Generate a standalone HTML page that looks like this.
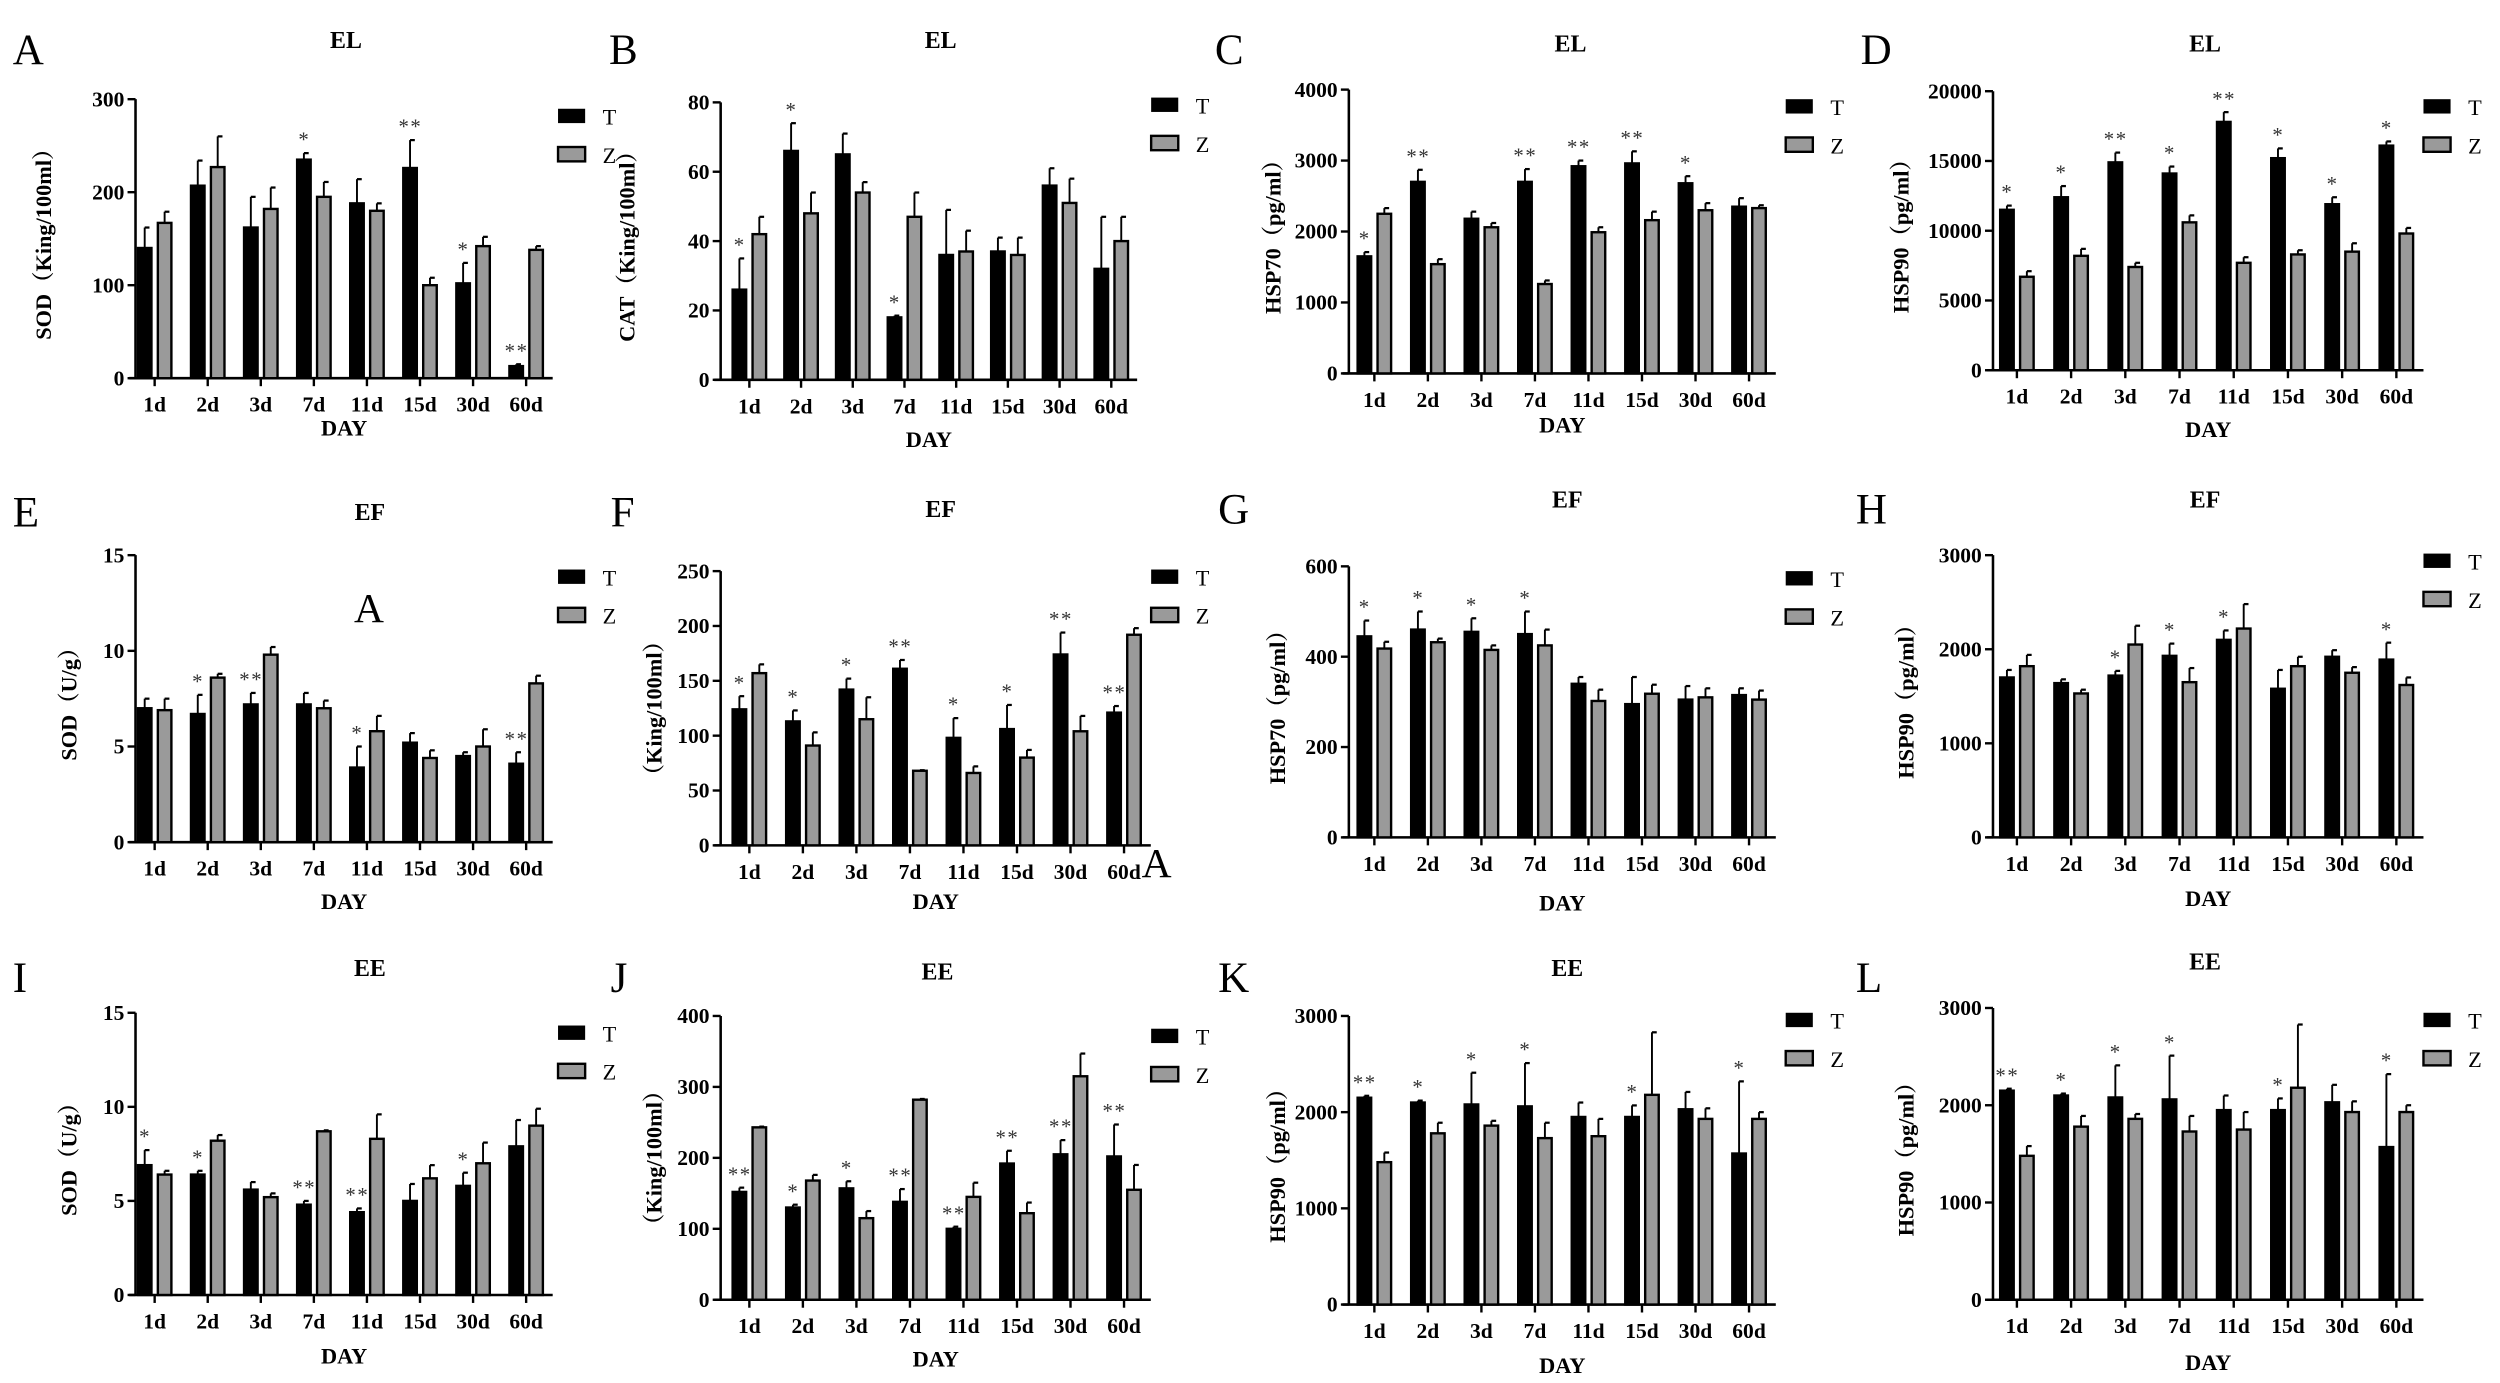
<!DOCTYPE html>
<html><head><meta charset="utf-8">
<style>
html,body{margin:0;padding:0;background:#fff;}
svg{display:block;}
text{font-family:"Liberation Serif","Noto Serif CJK SC",serif;}
</style></head>
<body>
<svg id="s" width="2500" height="1383" viewBox="0 0 1568 867" xmlns="http://www.w3.org/2000/svg"></svg>
<script>
const P=[
{L:'A',lx:8,ly:40,t:'EL',tx:217,ty:30,ax:85,y0:237,yt:62,max:300,step:100,x1:97,x2:330,yl:'SOD（King/100ml）',ylx:32,dy:273,gx:350,gy:73,
T:[140,207,162,235,188,226,102,13],Te:[22,27,33,7,26,30,22,2],Z:[167,227,182,195,180,100,142,138],Ze:[12,33,23,16,8,8,10,4],s:['','','','*','','**','*','**']},
{L:'B',lx:382,ly:40,t:'EL',tx:590,ty:30,ax:452,y0:238,yt:64,max:80,step:20,x1:470,x2:697,yl:'CAT（King/100ml）',ylx:398,dy:280,gx:722,gy:66,
T:[26,66,65,18,36,37,56,32],Te:[9,8,6,0.5,13,4,5,15],Z:[42,48,54,47,37,36,51,40],Ze:[5,6,3,7,6,5,7,7],s:['*','*','','*','','','','']},
{L:'C',lx:762,ly:40,t:'EL',tx:985,ty:32,ax:846,y0:234,yt:56,max:4000,step:1000,x1:862,x2:1097,yl:'HSP70（pg/ml）',ylx:803,dy:271,gx:1120,gy:67,
T:[1650,2700,2180,2700,2920,2960,2680,2350],Te:[60,170,100,180,80,170,100,120],Z:[2250,1540,2060,1260,1990,2160,2300,2330],Ze:[80,70,60,50,70,120,100,40],s:['*','**','','**','**','**','*','']},
{L:'D',lx:1167,ly:40,t:'EL',tx:1383,ty:32,ax:1250,y0:232,yt:57,max:20000,step:5000,x1:1265,x2:1503,yl:'HSP90（pg/ml）',ylx:1197,dy:274,gx:1520,gy:67,
T:[11500,12400,14900,14100,17800,15200,11900,16100],Te:[300,800,700,500,700,700,500,300],Z:[6700,8200,7400,10600,7700,8300,8500,9800],Ze:[400,500,300,500,400,300,600,400],s:['*','*','**','*','**','*','*','*']},
{L:'E',lx:8,ly:330,t:'EF',tx:232,ty:326,ax:85,y0:528,yt:348,max:15,step:5,x1:97,x2:330,yl:'SOD（U/g）',ylx:48,dy:570,gx:350,gy:362,
T:[7,6.7,7.2,7.2,3.9,5.2,4.5,4.1],Te:[0.5,1,0.6,0.6,1.1,0.5,0.2,0.6],Z:[6.9,8.6,9.8,7,5.8,4.4,5,8.3],Ze:[0.6,0.2,0.4,0.4,0.8,0.4,0.9,0.4],s:['','*','**','','*','','','**']},
{L:'F',lx:383,ly:330,t:'EF',tx:590,ty:324,ax:452,y0:530,yt:358,max:250,step:50,x1:470,x2:705,yl:'（King/100ml）',ylx:415,dy:570,gx:722,gy:362,
T:[124,113,142,161,98,106,174,121],Te:[12,10,10,8,18,22,20,6],Z:[157,91,115,68,66,80,104,192],Ze:[8,12,20,0.5,6,7,14,6],s:['*','*','*','**','*','*','**','**']},
{L:'G',lx:764,ly:328,t:'EF',tx:983,ty:318,ax:846,y0:525,yt:355,max:600,step:200,x1:862,x2:1097,yl:'HSP70（pg/ml）',ylx:806,dy:571,gx:1120,gy:363,
T:[445,460,455,450,340,295,305,315],Te:[35,40,30,50,15,60,30,15],Z:[418,432,415,425,302,318,310,305],Ze:[15,8,10,35,25,20,20,20],s:['*','*','*','*','','','','']},
{L:'H',lx:1164,ly:328,t:'EF',tx:1383,ty:318,ax:1250,y0:525,yt:348,max:3000,step:1000,x1:1265,x2:1503,yl:'HSP90（pg/ml）',ylx:1200,dy:568,gx:1520,gy:352,
T:[1700,1640,1720,1930,2100,1580,1920,1890],Te:[80,40,50,130,100,200,70,180],Z:[1820,1530,2050,1650,2220,1820,1750,1620],Ze:[120,40,200,150,260,100,60,80],s:['','','*','*','*','','','*']},
{L:'I',lx:8,ly:622,t:'EE',tx:232,ty:612,ax:85,y0:812,yt:635,max:15,step:5,x1:97,x2:330,yl:'SOD（U/g）',ylx:48,dy:855,gx:350,gy:648,
T:[6.9,6.4,5.6,4.8,4.4,5,5.8,7.9],Te:[0.8,0.2,0.4,0.2,0.2,0.9,0.7,1.4],Z:[6.4,8.2,5.2,8.7,8.3,6.2,7,9],Ze:[0.2,0.3,0.2,0.05,1.3,0.7,1.1,0.9],s:['*','*','','**','**','','*','']},
{L:'J',lx:383,ly:622,t:'EE',tx:588,ty:614,ax:452,y0:815,yt:637,max:400,step:100,x1:470,x2:705,yl:'（King/100ml）',ylx:415,dy:857,gx:722,gy:650,
T:[152,130,157,138,100,192,205,202],Te:[6,4,10,18,3,18,20,45],Z:[243,168,115,282,145,122,315,155],Ze:[1,8,10,1,20,15,32,35],s:['**','*','*','**','**','**','**','**']},
{L:'K',lx:764,ly:622,t:'EE',tx:983,ty:612,ax:846,y0:818,yt:637,max:3000,step:1000,x1:862,x2:1097,yl:'HSP90（pg/ml）',ylx:806,dy:861,gx:1120,gy:640,
T:[2150,2100,2080,2060,1950,1950,2030,1570],Te:[20,20,330,450,150,120,180,750],Z:[1480,1780,1860,1730,1750,2180,1930,1930],Ze:[100,110,50,160,180,650,110,70],s:['**','*','*','*','','*','','*']},
{L:'L',lx:1164,ly:622,t:'EE',tx:1383,ty:608,ax:1250,y0:815,yt:632,max:3000,step:1000,x1:1265,x2:1503,yl:'HSP90（pg/ml）',ylx:1200,dy:859,gx:1520,gy:640,
T:[2150,2100,2080,2060,1950,1950,2030,1570],Te:[20,20,330,450,150,120,180,750],Z:[1480,1780,1860,1730,1750,2180,1930,1930],Ze:[100,110,50,160,180,650,110,70],s:['**','*','*','*','','*','','*']}
];
const days=['1d','2d','3d','7d','11d','15d','30d','60d'];
let h='';
function bar(x,w,v,e,p,fill){
  const y=p.y0-(v/p.max)*(p.y0-p.yt), ye=p.y0-((v+e)/p.max)*(p.y0-p.yt);
  const cx=x+w/2;
  h+=`<line x1="${cx}" y1="${y}" x2="${cx}" y2="${ye}" stroke="#000" stroke-width="1.2"/><line x1="${cx}" y1="${ye}" x2="${cx+3}" y2="${ye}" stroke="#000" stroke-width="1.4"/>`;
  h+=`<rect x="${x}" y="${y}" width="${w}" height="${p.y0-y}" fill="${fill}" stroke="#000" stroke-width="1.5"/>`;
  return ye;
}
P.forEach(p=>{
  h+=`<text x="${p.lx}" y="${p.ly}" font-size="27">${p.L}</text>`;
  h+=`<text x="${p.tx}" y="${p.ty}" font-size="15" font-weight="bold" text-anchor="middle">${p.t}</text>`;
  const sp=(p.x2-p.x1)/7, right=p.x2+sp*0.5;
  h+=`<line x1="${p.ax}" y1="${p.yt}" x2="${p.ax}" y2="${p.y0}" stroke="#000" stroke-width="1.6"/>`;
  h+=`<line x1="${p.ax-4}" y1="${p.y0}" x2="${right}" y2="${p.y0}" stroke="#000" stroke-width="1.6"/>`;
  for(let v=0;v<=p.max+1e-9;v+=p.step){
    const y=p.y0-(v/p.max)*(p.y0-p.yt);
    h+=`<line x1="${p.ax-5}" y1="${y}" x2="${p.ax}" y2="${y}" stroke="#000" stroke-width="1.5"/>`;
    h+=`<text x="${p.ax-7}" y="${y+4.5}" font-size="13.5" font-weight="bold" text-anchor="end">${v}</text>`;
  }
  for(let i=0;i<8;i++){
    const t=p.x1+sp*i;
    h+=`<line x1="${t}" y1="${p.y0}" x2="${t}" y2="${p.y0+5}" stroke="#000" stroke-width="1.5"/>`;
    h+=`<text x="${t}" y="${p.y0+21}" font-size="13.5" font-weight="bold" text-anchor="middle">${days[i]}</text>`;
    const ye=bar(t-10.5,8.5,p.T[i],p.Te[i],p,'#000');
    bar(t+2,8.5,p.Z[i],p.Ze[i],p,'#9a9a9a');
    if(p.s[i]) h+=`<text x="${t-6}" y="${ye-4}" font-size="13" fill="#333" text-anchor="middle" letter-spacing="1">${p.s[i]}</text>`;
  }
  h+=`<text x="${(p.ax+right)/2}" y="${p.dy}" font-size="14" font-weight="bold" text-anchor="middle">DAY</text>`;
  const ym=(p.y0+p.yt)/2;
  h+=`<text transform="translate(${p.ylx},${ym}) rotate(-90)" font-size="14" font-weight="bold" text-anchor="middle">${p.yl}</text>`;
  h+=`<rect x="${p.gx}" y="${p.gy-5}" width="17" height="9" fill="#000"/><text x="${p.gx+28}" y="${p.gy+5}" font-size="14">T</text>`;
  h+=`<rect x="${p.gx}" y="${p.gy+19}" width="17" height="9" fill="#9a9a9a" stroke="#000" stroke-width="1.5"/><text x="${p.gx+28}" y="${p.gy+29}" font-size="14">Z</text>`;
});
h+=`<text x="222" y="390" font-size="26">A</text><text x="716" y="550" font-size="26">A</text>`;
document.getElementById('s').innerHTML=h;
</script>
</body></html>
